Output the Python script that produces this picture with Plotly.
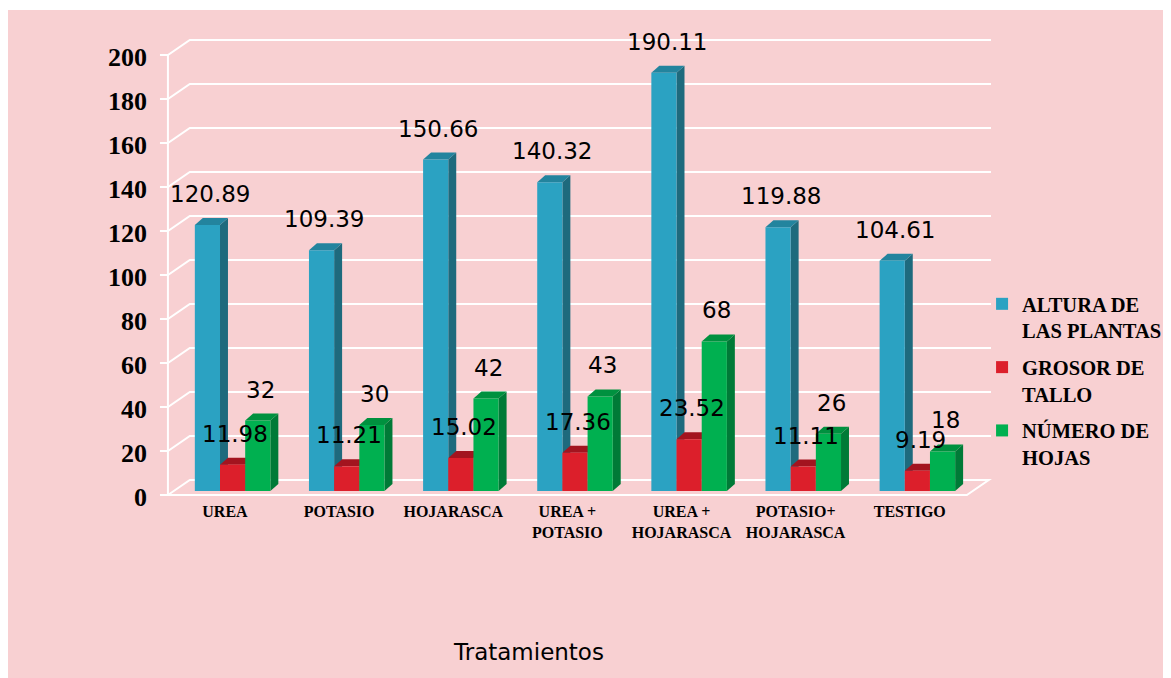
import plotly.graph_objects as go

# ---------------- data ----------------
categories = ["UREA", "POTASIO", "HOJARASCA", "UREA +<br>POTASIO",
              "UREA +<br>HOJARASCA", "POTASIO+<br>HOJARASCA", "TESTIGO"]
altura = [120.89, 109.39, 150.66, 140.32, 190.11, 119.88, 104.61]
grosor = [11.98, 11.21, 15.02, 17.36, 23.52, 11.11, 9.19]
hojas = [32, 30, 42, 43, 68, 26, 18]
series_names = ["ALTURA DE<br>LAS PLANTAS", "GROSOR DE<br>TALLO", "NÚMERO DE<br>HOJAS"]
y_ticks = [0, 20, 40, 60, 80, 100, 120, 140, 160, 180, 200]

# ---------------- styling / geometry ----------------
front_colors = ["#2BA2C2", "#DC1F2B", "#00B050"]
side_colors = ["#1E6A7D", "#9A1620", "#007A37"]
top_colors = ["#23849E", "#A3141F", "#00913F"]
PINK = "#F8D0D2"

W, H = 1171, 678
OFF = 8                                       # page body margin
PL, PR, PT, PB = 151 - OFF, 1000 - OFF, 25 - OFF, 500 - OFF   # plot area (figure px)
X_FRONT_LEFT_PX = 168 - OFF                   # front-left of category axis
Y_ZERO_PX = 491 - OFF                         # bar base
PX_CAT = 114.67                               # pixels per category
PX_VAL = 2.2                                  # pixels per unit

x_lo = -0.5 - (X_FRONT_LEFT_PX - PL) / PX_CAT
x_hi = -0.5 + (PR - X_FRONT_LEFT_PX) / PX_CAT
y_lo = -(PB - Y_ZERO_PX) / PX_VAL
y_hi = (Y_ZERO_PX - PT) / PX_VAL

BAR_W = 25.3 / PX_CAT
offsets = [-30.3 / PX_CAT, -30.3 / PX_CAT + BAR_W, -30.3 / PX_CAT + 2 * BAR_W]
DDX = 8 / PX_CAT       # bar depth
DDY = 7 / PX_VAL
FRONT_DY = -4 / PX_VAL  # front frame is 4px lower than bar base
BACK_DX = 22 / PX_CAT
BACK_DY = 15 / PX_VAL
TICK_LEN = 8 / PX_CAT
BACK_RIGHT = -0.5 + (995 - 168) / PX_CAT
FRONT_RIGHT = 6.5

series = [altura, grosor, hojas]

fig = go.Figure()
xs = list(range(len(categories)))
for k, (vals, name) in enumerate(zip(series, series_names)):
    fig.add_trace(go.Bar(
        x=xs, y=vals, name=name, width=BAR_W, offset=offsets[k],
        marker=dict(color=front_colors[k], line=dict(width=0)),
        legendgroup=f"g{k}", hoverinfo="skip",
    ))

def px_to_paper_x(px):
    return (px - PL) / (PR - PL)

def px_to_paper_y(py):
    return 1 - (py - PT) / (PB - PT)

shapes = []
# background pink panel
shapes.append(dict(type="rect", xref="paper", yref="paper",
                   x0=px_to_paper_x(-5), x1=px_to_paper_x(W + 5),
                   y0=px_to_paper_y(H + 5), y1=px_to_paper_y(2),
                   fillcolor=PINK, line=dict(width=0), layer="below"))

GRID = dict(color="white", width=2)
# gridlines (front -> back diagonal -> along back wall)
for v in y_ticks:
    yf = v + FRONT_DY
    yb = yf + BACK_DY
    if v == 0:
        path = (f"M{-0.5 - TICK_LEN},{yf} L{FRONT_RIGHT},{yf} "
                f"L{FRONT_RIGHT + BACK_DX},{yb} L{-0.5 + BACK_DX},{yb} L{-0.5},{yf}")
    else:
        path = (f"M{-0.5 - TICK_LEN},{yf} L{-0.5},{yf} "
                f"L{-0.5 + BACK_DX},{yb} L{BACK_RIGHT},{yb}")
    shapes.append(dict(type="path", xref="x", yref="y", path=path,
                       line=GRID, layer="below"))
# front vertical axis line
shapes.append(dict(type="line", xref="x", yref="y",
                   x0=-0.5, x1=-0.5, y0=FRONT_DY, y1=200 + FRONT_DY,
                   line=GRID, layer="below"))

# 3D faces of bars
for k, vals in enumerate(series):
    for i, v in enumerate(vals):
        xl = i + offsets[k]
        xr = xl + BAR_W
        side = (f"M{xr},0 L{xr + DDX},{DDY} L{xr + DDX},{v + DDY} L{xr},{v} Z")
        top = (f"M{xl},{v} L{xl + DDX},{v + DDY} L{xr + DDX},{v + DDY} L{xr},{v} Z")
        shapes.append(dict(type="path", xref="x", yref="y", path=side,
                           fillcolor=side_colors[k], line=dict(width=0), layer="below"))
        shapes.append(dict(type="path", xref="x", yref="y", path=top,
                           fillcolor=top_colors[k], line=dict(width=0), layer="below"))

annotations = []
for k, vals in enumerate(series):
    for i, v in enumerate(vals):
        annotations.append(dict(
            x=i + offsets[k] + BAR_W / 2 + DDX / 3, y=v, xref="x", yref="y",
            text=f"{v:g}", showarrow=False, yshift=31, yanchor="middle",
            font=dict(family="DejaVu Sans", size=23, color="black")))

annotations.append(dict(
    x=px_to_paper_x(530 - OFF), y=px_to_paper_y(652 - OFF), xref="paper", yref="paper",
    text="Tratamientos", showarrow=False, xanchor="center", yanchor="middle",
    font=dict(family="DejaVu Sans", size=23, color="black")))

fig.update_layout(
    width=W, height=H,
    margin=dict(l=PL, r=W - PR, t=PT, b=H - PB, pad=0),
    paper_bgcolor="white", plot_bgcolor="rgba(0,0,0,0)",
    barmode="overlay",
    shapes=shapes, annotations=annotations,
    showlegend=True,
    legend=dict(x=px_to_paper_x(986 - OFF), xanchor="left",
                y=px_to_paper_y(284 - OFF), yanchor="top",
                font=dict(family="Liberation Serif", size=20.5, color="black", weight="bold"),
                bgcolor="rgba(0,0,0,0)", traceorder="grouped", tracegroupgap=7,
                valign="top"),
    xaxis=dict(range=[x_lo, x_hi], tickvals=xs, ticktext=categories,
               showgrid=False, zeroline=False, showline=False, ticks="",
               tickfont=dict(family="Liberation Serif", size=16, color="black", weight="bold"),
               fixedrange=True),
    yaxis=dict(range=[y_lo, y_hi], tickvals=y_ticks,
               showgrid=False, zeroline=False, showline=False, ticks="",
               ticklabelshift=6, ticklabelstandoff=3,
               tickfont=dict(family="Liberation Serif", size=26, color="black", weight="bold"),
               fixedrange=True),
)

fig.write_html("out.html")
